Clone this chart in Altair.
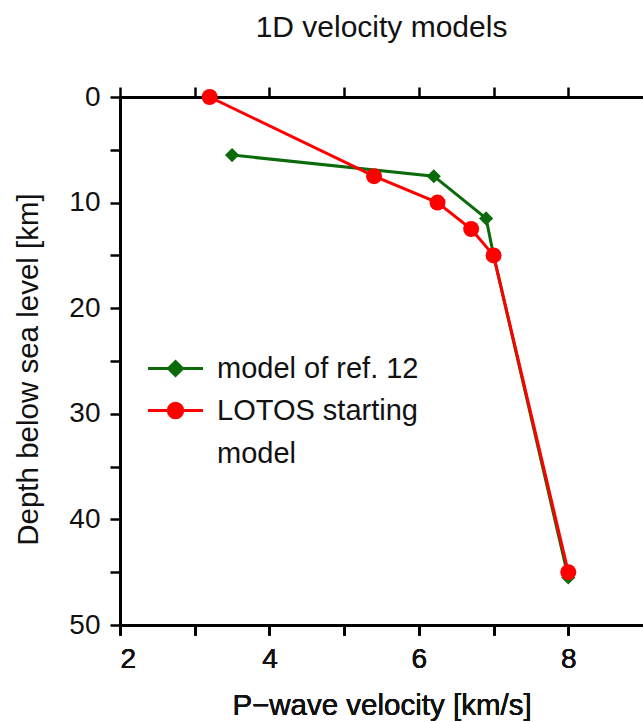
import altair as alt
import pandas as pd

# ---- data ----
series_names = ["model of ref. 12", "LOTOS starting model"]
ref12_velocity = [3.5, 6.2, 6.9, 7.0, 8.0]
ref12_depth = [5.5, 7.5, 11.5, 15.0, 45.5]
lotos_velocity = [3.2, 5.4, 6.25, 6.7, 7.0, 8.0]
lotos_depth = [0.0, 7.5, 10.0, 12.5, 15.0, 45.0]
x_ticks = [2, 3, 4, 5, 6, 7, 8]
y_ticks = [0, 5, 10, 15, 20, 25, 30, 35, 40, 45, 50]

rows = []
for i, (v, d) in enumerate(zip(ref12_velocity, ref12_depth)):
    rows.append({"series": series_names[0], "velocity": v, "depth": d, "idx": i})
for i, (v, d) in enumerate(zip(lotos_velocity, lotos_depth)):
    rows.append({"series": series_names[1], "velocity": v, "depth": d, "idx": i})
df = pd.DataFrame(rows)

GREEN = "#0b6b0b"
RED = "#ff0000"
FONT = "Liberation Sans"

xscale = alt.Scale(domain=[2, 9], nice=False, zero=False)
yscale = alt.Scale(domain=[0, 50], nice=False, reverse=True)

x_bottom = alt.X(
    "velocity:Q", scale=xscale,
    axis=alt.Axis(values=x_ticks, orient="bottom", title="P\u2212wave velocity [km/s]",
                  labelExpr="datum.value % 2 === 0 ? datum.label : ''",
                  titlePadding=18),
)
y_left = alt.Y(
    "depth:Q", scale=yscale,
    axis=alt.Axis(values=y_ticks, title="Depth below sea level [km]",
                  labelExpr="datum.value % 10 === 0 ? datum.label : ''",
                  titlePadding=25, titleY=272),
)

base = alt.Chart(df)


def series_layers(name, color, shape, size):
    sub = base.transform_filter(alt.datum.series == name)
    line = sub.mark_line(strokeWidth=3, color=color).encode(
        x=x_bottom, y=y_left, order=alt.Order("idx:Q"))
    pts = sub.mark_point(shape=shape, filled=True, size=size, opacity=1, color=color).encode(
        x=x_bottom, y=y_left)
    return line, pts


g_line, g_pts = series_layers(series_names[0], GREEN, "diamond", 200)
r_line, r_pts = series_layers(series_names[1], RED, "circle", 256)

# legend symbols: a line with its marker, as custom paths
green_sym = "M-1.375,0L1.375,0M-0.35,0L0,-0.35L0.35,0L0,0.35Z"
red_sym = "M-1.375,0L1.375,0M-0.36,0A0.36,0.36,0,1,1,0.36,0A0.36,0.36,0,1,1,-0.36,0Z"

leg = dict(
    title=None, orient="none", legendX=34, legendY=250, padding=0,
    symbolSize=1600, symbolStrokeWidth=3, symbolOpacity=1,
    labelFontSize=29, labelFont=FONT, labelColor="#111",
    labelOffset=20, rowPadding=5, labelLimit=400,
    labelExpr="datum.label === 'LOTOS starting model' ? ['LOTOS starting', 'model'] : datum.label",
)

legend_layer = base.mark_point(opacity=0, filled=True).encode(
    x=alt.X("velocity:Q", scale=xscale,
            axis=alt.Axis(values=x_ticks, orient="top", labels=False, title=None)),
    y=y_left,
    fill=alt.Fill("series:N", scale=alt.Scale(domain=series_names, range=[GREEN, RED]),
                  legend=alt.Legend(**leg)),
    stroke=alt.Stroke("series:N", scale=alt.Scale(domain=series_names, range=[GREEN, RED]),
                      legend=alt.Legend(**leg)),
    shape=alt.Shape("series:N", scale=alt.Scale(domain=series_names, range=[green_sym, red_sym]),
                    legend=alt.Legend(**leg)),
)

chart = alt.layer(g_line, g_pts, r_line, r_pts, legend_layer).properties(
    width=523, height=528,
    title=alt.TitleParams("1D velocity models", fontSize=30, font=FONT, fontWeight="normal",
                          color="#111", anchor="middle", offset=40),
    autosize=alt.AutoSizeParams(type="none"),
    padding={"left": 120, "top": 97, "right": 0, "bottom": 97},
).configure(
    style={"guide-label": {"lineHeight": 43}},
).configure_view(stroke=None).configure_axis(
    domainColor="black", domainWidth=3, tickColor="black", tickWidth=2.5, tickSize=10,
    labelFont=FONT, labelFontSize=28, labelColor="#111", labelPadding=10,
    titleFont=FONT, titleFontSize=29.5, titleFontWeight="normal", titleColor="#111",
    grid=False,
)

chart.save("out.html", embed_options={"renderer": "svg", "actions": False})
